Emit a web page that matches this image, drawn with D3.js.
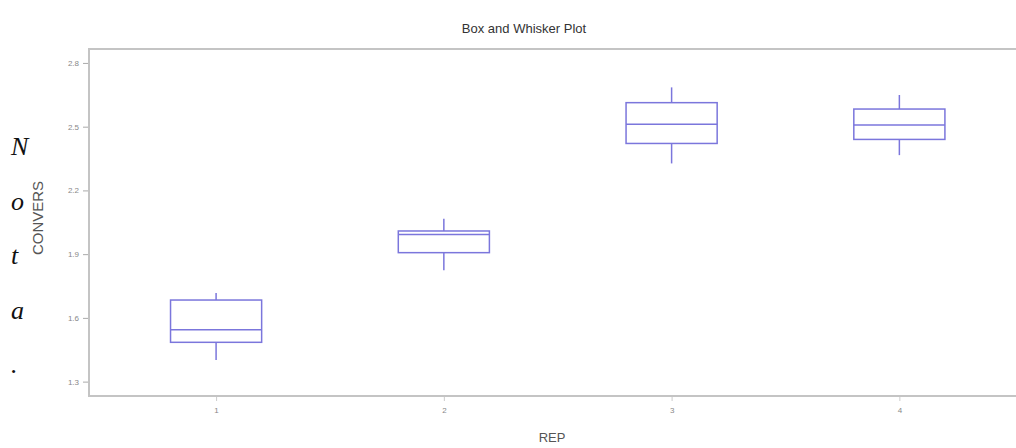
<!DOCTYPE html>
<html>
<head>
<meta charset="utf-8">
<script src="https://cdn.jsdelivr.net/npm/d3@7"></script>
<style>
  html, body { margin: 0; padding: 0; background: #fff; }
  svg { display: block; }
</style>
</head>
<body>
<svg id="chart" width="1016" height="448"></svg>
<script>
// ---- data ----
const categories = [1, 2, 3, 4];
const whiskerMin = [1.402, 1.824, 2.327, 2.366];
const q1Values   = [1.485, 1.907, 2.421, 2.440];
const medians    = [1.544, 1.992, 2.511, 2.508];
const q3Values   = [1.684, 2.009, 2.613, 2.583];
const whiskerMax = [1.717, 2.067, 2.685, 2.649];
const yTicks = [1.3, 1.6, 1.9, 2.2, 2.5, 2.8];
const xTicks = [1, 2, 3, 4];
const sideLetters = ["N", "o", "t", "a", "."];

(function () {
const svg = d3.select("#chart");
const pLeft = 89, pTop = 49, pBottom = 396, pRight = 1026;

const x = d3.scaleLinear().domain([0.442, 4.556]).range([pLeft, pRight]);
const y = d3.scaleLinear().domain([1.2323, 2.8656]).range([pBottom, pTop]);

const boxColor = "#7b76dc";
const frameColor = "#c4c4c4";
const font = "'Liberation Sans', Arial, sans-serif";

// stray side letters
svg.append("g").selectAll("text").data(sideLetters).join("text")
  .attr("x", 11)
  .attr("y", (d, i) => 155 + i * 54.5)
  .attr("font-family", "'Liberation Serif', 'Times New Roman', serif")
  .attr("font-style", "italic")
  .attr("font-size", 26)
  .attr("fill", "#111")
  .text(d => d);

// title
svg.append("text")
  .attr("x", 524).attr("y", 33)
  .attr("text-anchor", "middle")
  .attr("font-family", font).attr("font-size", 13)
  .attr("fill", "#333")
  .text("Box and Whisker Plot");

// frame
svg.append("rect")
  .attr("x", pLeft).attr("y", pTop)
  .attr("width", pRight - pLeft).attr("height", pBottom - pTop)
  .attr("fill", "none").attr("stroke", frameColor).attr("stroke-width", 2);

// y axis
const yAxis = d3.axisLeft(y).tickValues(yTicks).tickFormat(d3.format(".1f")).tickSize(5).tickPadding(4);
const gy = svg.append("g").attr("transform", `translate(${pLeft - 1},0)`).call(yAxis);
gy.select(".domain").remove();
gy.selectAll(".tick line").attr("stroke", "#aaa");
gy.selectAll(".tick text").attr("fill", "#888").attr("font-family", font).attr("font-size", 8);

// x axis
const xAxis = d3.axisBottom(x).tickValues(xTicks).tickFormat(d3.format("d")).tickSize(4).tickPadding(6);
const gx = svg.append("g").attr("transform", `translate(0,${pBottom + 1})`).call(xAxis);
gx.select(".domain").remove();
gx.selectAll(".tick line").attr("stroke", "#ccc");
gx.selectAll(".tick text").attr("fill", "#888").attr("font-family", font).attr("font-size", 8);

// axis labels
svg.append("text")
  .attr("transform", `translate(43,218) rotate(-90)`)
  .attr("text-anchor", "middle")
  .attr("font-family", font).attr("font-size", 15)
  .attr("fill", "#555")
  .text("CONVERS");

svg.append("text")
  .attr("x", 552).attr("y", 442)
  .attr("text-anchor", "middle")
  .attr("font-family", font).attr("font-size", 13)
  .attr("fill", "#555")
  .text("REP");

// boxes
const boxHalf = 0.2;
const data = categories.map((c, i) => ({
  c, min: whiskerMin[i], q1: q1Values[i], med: medians[i], q3: q3Values[i], max: whiskerMax[i]
}));

const g = svg.append("g").attr("stroke", boxColor).attr("stroke-width", 1.5).attr("fill", "none");
const bx = g.selectAll("g.box").data(data).join("g").attr("class", "box");

bx.append("line")
  .attr("x1", d => x(d.c)).attr("x2", d => x(d.c))
  .attr("y1", d => y(d.max)).attr("y2", d => y(d.q3));
bx.append("line")
  .attr("x1", d => x(d.c)).attr("x2", d => x(d.c))
  .attr("y1", d => y(d.q1)).attr("y2", d => y(d.min));
bx.append("rect")
  .attr("x", d => x(d.c - boxHalf))
  .attr("width", d => x(d.c + boxHalf) - x(d.c - boxHalf))
  .attr("y", d => y(d.q3))
  .attr("height", d => y(d.q1) - y(d.q3));
bx.append("line")
  .attr("x1", d => x(d.c - boxHalf)).attr("x2", d => x(d.c + boxHalf))
  .attr("y1", d => y(d.med)).attr("y2", d => y(d.med));
})();
</script>
</body>
</html>
